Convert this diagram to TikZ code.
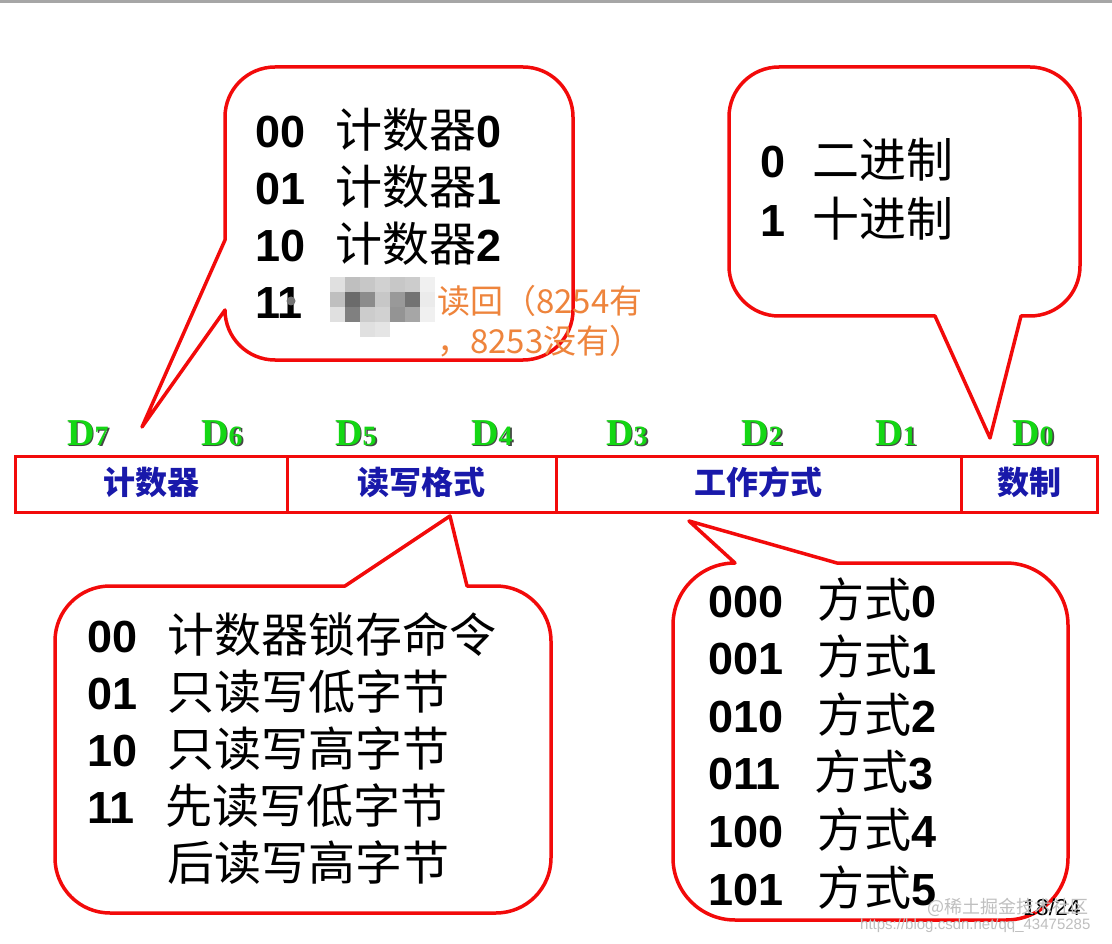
\documentclass[tikz,border=0pt]{standalone}
\usepackage{fontspec}
\setmainfont{Liberation Sans}
\newfontfamily\cjk{Noto Sans CJK SC}
\newfontfamily\serif{Liberation Serif}
\definecolor{bubblered}{RGB}{242,10,10}
\definecolor{fieldblue}{RGB}{25,25,170}
\definecolor{bitgreen}{RGB}{20,215,20}
\definecolor{bitshadow}{RGB}{70,70,70}
\definecolor{noteorange}{RGB}{238,132,60}
\newcommand\bnum[1]{{\normalfont\bfseries\fontsize{45}{54}\selectfont #1}}
\newcommand\dbit[1]{\makebox[0pt][l]{\kern1.6pt\raisebox{-1.6pt}{\color{bitshadow}D\fontsize{28}{28}\selectfont #1}}D{\fontsize{28}{28}\selectfont #1}}
\tikzset{
  bubble/.style={draw=bubblered, line width=3.5pt, fill=white, line join=round},
  field/.style={draw=bubblered, line width=3pt, minimum height=56pt, inner sep=0pt, text height=28pt, text depth=8pt, text=fieldblue, font=\cjk\bfseries\fontsize{32}{38}\selectfont},
  bitlabel/.style={inner sep=0pt, anchor=base, text=bitgreen, font=\serif\bfseries\fontsize{38}{38}\selectfont},
  code/.style={inner sep=0pt, anchor=base west, font=\bfseries\fontsize{45}{54}\selectfont},
  desc/.style={inner sep=0pt, anchor=base west, font=\cjk\fontsize{47}{56}\selectfont},
  note/.style={inner sep=0pt, anchor=base west, text=noteorange, font=\cjk\fontsize{33}{40}\selectfont},
  watermark/.style={inner sep=0pt, anchor=base west, text=black!25, font=\cjk\fontsize{18}{20}\selectfont}
}

\begin{document}
\begin{tikzpicture}[x=1pt, y=-1pt]
		%%%%% START %%%%%
		\useasboundingbox (0,0) rectangle (1112,944);
		\fill[white] (0,0) rectangle (1112,944);
		\fill[black!35] (0,0) rectangle (1112,3);
		
		% callouts
		\draw[bubble] (275,67) -- (523,67) arc[start angle=-90, end angle=0, radius=50] -- (573,310) arc[start angle=0, end angle=90, radius=50] -- (275,360) arc[start angle=90, end angle=180, radius=50] -- (225,310) -- (142,427) -- (225,240) -- (225,117) arc[start angle=180, end angle=270, radius=50] -- cycle;
		\draw[bubble] (779,67) -- (1030,67) arc[start angle=-90, end angle=0, radius=50] -- (1080,266) arc[start angle=0, end angle=90, radius=50] -- (1021,316) -- (990,438) -- (935,316) -- (779,316) arc[start angle=90, end angle=180, radius=50] -- (729,117) arc[start angle=180, end angle=270, radius=50] -- cycle;
		\draw[bubble] (110,586) -- (345,586) -- (450,516) -- (467,586) -- (496,586) arc[start angle=-90, end angle=0, radius=55] -- (551,858) arc[start angle=0, end angle=90, radius=55] -- (110,913) arc[start angle=90, end angle=180, radius=55] -- (55,641) arc[start angle=180, end angle=270, radius=55] -- cycle;
		\draw[bubble] (735,563) -- (689,521) -- (837,563) -- (1006,563) arc[start angle=-90, end angle=0, radius=62] -- (1068,858) arc[start angle=0, end angle=90, radius=62] -- (735,920) arc[start angle=90, end angle=180, radius=62] -- (673,625) arc[start angle=180, end angle=270, radius=62] -- cycle;
		
		% control word
		\node[field, minimum width=272pt] (counter) at (151,484) {计数器};
		\node[field, minimum width=269pt] (rwformat) at (421.5,484) {读写格式};
		\node[field, minimum width=405pt] (workmode) at (758.5,484) {工作方式};
		\node[field, minimum width=136pt] (radix) at (1029,484) {数制};
		
		\node[bitlabel] (d7) at (88,445) {\dbit{7}};
		\node[bitlabel] (d6) at (222,445) {\dbit{6}};
		\node[bitlabel] (d5) at (356,445) {\dbit{5}};
		\node[bitlabel] (d4) at (492,445) {\dbit{4}};
		\node[bitlabel] (d3) at (627,445) {\dbit{3}};
		\node[bitlabel] (d2) at (762,445) {\dbit{2}};
		\node[bitlabel] (d1) at (896,445) {\dbit{1}};
		\node[bitlabel] (d0) at (1033,445) {\dbit{0}};
		
		% counter select
		\node[code] (sc0) at (255,148) {00};
		\node[desc] (sc0t) at (335,148) {计数器\bnum{0}};
		\node[code] (sc1) at (255,205) {01};
		\node[desc] (sc1t) at (335,205) {计数器\bnum{1}};
		\node[code] (sc2) at (255,262) {10};
		\node[desc] (sc2t) at (335,262) {计数器\bnum{2}};
		\node[code] (sc3) at (255,319) {11};
		\fill[black!55] (291,301) circle (4.5);
		\foreach \x/\y/\s in {330/277/12, 345/277/25, 360/277/22, 375/277/18, 390/277/22, 405/277/20, 420/277/6,
		                      330/292/25, 345/292/58, 360/292/45, 375/292/22, 390/292/40, 405/292/55, 420/292/8,
		                      330/307/12, 345/307/50, 360/307/20, 375/307/18, 390/307/42, 405/307/35, 420/307/6,
		                      360/322/12, 375/322/10}
		  \fill[black!\s] (\x,\y) rectangle ++(15,15);
		\node[note] (readback) at (437,314) {读回（8254有};
		\node[note] (readback2) at (437,353) {，8253没有）};
		
		% radix
		\node[code] (bcd0) at (760,178) {0};
		\node[desc] (bcd0t) at (812,178) {二进制};
		\node[code] (bcd1) at (760,237) {1};
		\node[desc] (bcd1t) at (812,237) {十进制};
		
		% read/write format
		\node[code] (rw0) at (87,652) {00};
		\node[desc] (rw0t) at (167,652) {计数器锁存命令};
		\node[code] (rw1) at (87,709) {01};
		\node[desc] (rw1t) at (167,709) {只读写低字节};
		\node[code] (rw2) at (87,766) {10};
		\node[desc] (rw2t) at (167,766) {只读写高字节};
		\node[code] (rw3) at (87,823) {11};
		\node[desc] (rw3t) at (165,823) {先读写低字节};
		\node[desc] (rw3u) at (167,880) {后读写高字节};
		
		% modes
		\node[code] (m0) at (708,617) {000};
		\node[desc] (m0t) at (817,617) {方式\bnum{0}};
		\node[code] (m1) at (708,674) {001};
		\node[desc] (m1t) at (817,674) {方式\bnum{1}};
		\node[code] (m2) at (708,732) {010};
		\node[desc] (m2t) at (817,732) {方式\bnum{2}};
		\node[code] (m3) at (708,789) {011};
		\node[desc] (m3t) at (814,789) {方式\bnum{3}};
		\node[code] (m4) at (708,847) {100};
		\node[desc] (m4t) at (817,847) {方式\bnum{4}};
		\node[code] (m5) at (708,905) {101};
		\node[desc] (m5t) at (817,905) {方式\bnum{5}};
		
		\node[inner sep=0pt, anchor=base west, font=\fontsize{23}{26}\selectfont] (page) at (1023,915) {18/24};
		\node[watermark] (wm1) at (927,913) {@稀土掘金技术社区};
		\node[watermark, font=\fontsize{15}{18}\selectfont] (wm2) at (860,929) {https://blog.csdn.net/qq\_43475285};
		
		%%%%% END %%%%%
\end{tikzpicture}
\end{document}
